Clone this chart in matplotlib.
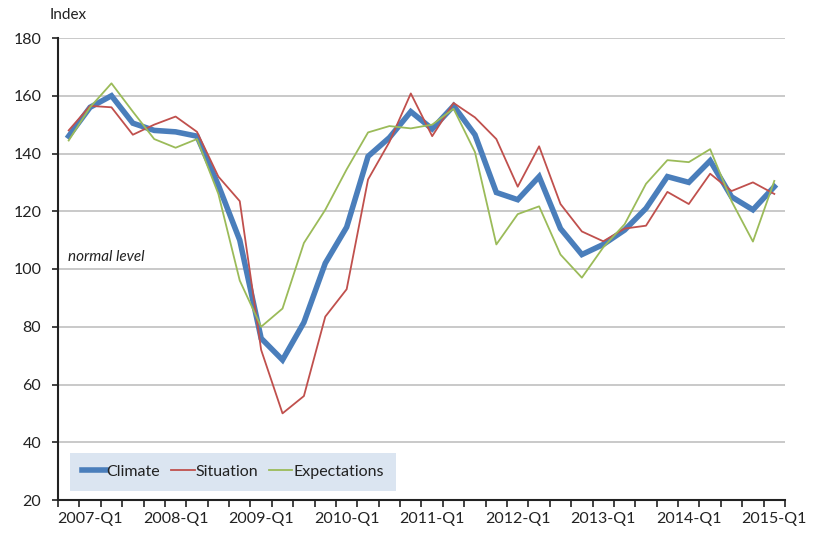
import numpy as np
import matplotlib.pyplot as plt

plt.rcParams['font.family'] = ['Lato', 'DejaVu Sans']

quarters = ['2006-Q4'] + ['%d-Q%d' % (y, q) for y in range(2007, 2015) for q in range(1, 5)] + ['2015-Q1']

climate = [146, 156, 160, 150.5, 148, 147.5, 146, 129, 110, 76, 68.5, 81.5, 102, 114.5,
           139, 145.5, 154.5, 148.5, 156.5, 146.5, 126.5, 124, 132, 114, 105, 108.5,
           113.5, 121, 132, 130, 137.5, 125, 120.5, 128.5]
situation = [148, 156.5, 156, 146.5, 150, 152.8, 147.5, 132, 123.5, 72, 50, 56, 83.5, 93,
             131, 144, 160.8, 146, 157.5, 152.5, 145, 128.5, 142.5, 122.5, 113, 109.6,
             114, 115, 126.7, 122.5, 133, 127, 130, 126]
expectations = [144.5, 156, 164.3, 154.5, 145, 142, 145, 126, 96, 80, 86.3, 109, 120.5, 134.5,
                147.3, 149.5, 148.7, 150, 155.5, 140.5, 108.5, 119, 121.7, 105, 97, 107.5,
                115.5, 129.5, 137.7, 137, 141.5, 123.5, 109.5, 130.5]

x = np.arange(len(quarters))

fig = plt.figure(figsize=(8.18, 5.33), dpi=100)
ax = fig.add_axes([58 / 818, 33 / 533, 727 / 818, 462 / 533])

ax.plot(x, climate, color='#4a7ebb', lw=4.0, label='Climate', zorder=3, solid_joinstyle='miter')
ax.plot(x, situation, color='#c0504d', lw=1.3, label='Situation', zorder=4)
ax.plot(x, expectations, color='#9bbb59', lw=1.3, label='Expectations', zorder=4)

ax.set_xlim(-0.5, len(quarters) - 0.5)
ax.set_ylim(20, 180)
ax.set_yticks(range(20, 181, 20))
ax.yaxis.grid(True, color='#c0c0c0', lw=1.2)
ax.set_axisbelow(True)

# tick marks between quarters, labels only on Q1
ax.set_xticks(np.arange(-0.5, len(quarters), 1.0))
ax.set_xticklabels([])
lab_pos = [i for i, q in enumerate(quarters) if q.endswith('Q1')]
ax.set_xticks(lab_pos, minor=True)
ax.set_xticklabels([quarters[i] for i in lab_pos], minor=True)
ax.tick_params(axis='x', which='major', length=5, width=1.2, color='#222222', direction='out')
ax.tick_params(axis='x', which='minor', length=0, pad=9, labelsize=11.5, labelcolor='#222222')
ax.tick_params(axis='y', length=4, width=1.2, color='#222222', labelsize=11.5, labelcolor='#222222', pad=8)

for s in ['top', 'right']:
    ax.spines[s].set_visible(False)
for s in ['left', 'bottom']:
    ax.spines[s].set_color('#222222')
    ax.spines[s].set_linewidth(1.5)

ax.text(-0.05, 104, 'normal level', style='italic', fontsize=11, color='#222222', va='center', ha='left')
fig.text(50 / 818, 1 - 15 / 533, 'Index', fontsize=11, color='#222222', va='center', ha='left')

leg = ax.legend(loc='lower left', bbox_to_anchor=(0.0165, 0.0195), ncol=3, frameon=True,
                fancybox=False, facecolor='#dbe5f1', edgecolor='none', framealpha=1,
                fontsize=11.5, handlelength=1.5, handletextpad=0.05, columnspacing=0.65,
                borderpad=0.75, borderaxespad=0)
for t in leg.get_texts():
    t.set_color('#222222')

fig.savefig('out.png', dpi=100)
